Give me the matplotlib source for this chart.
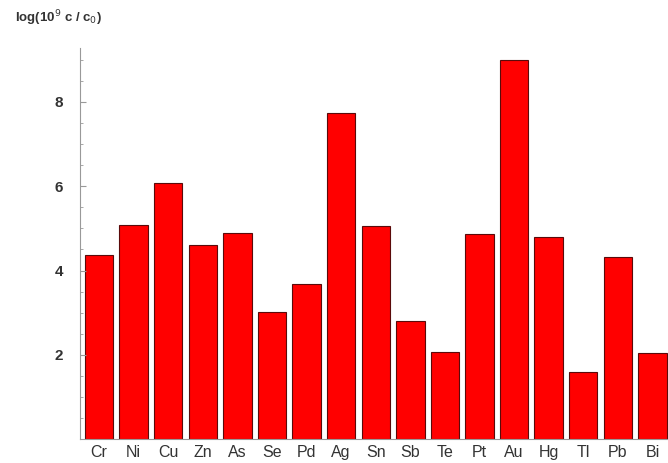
import matplotlib
matplotlib.use("Agg")
import matplotlib.pyplot as plt
from matplotlib.ticker import MultipleLocator

elements = ["Cr", "Ni", "Cu", "Zn", "As", "Se", "Pd", "Ag", "Sn",
            "Sb", "Te", "Pt", "Au", "Hg", "Tl", "Pb", "Bi"]
log_ratio = [4.37, 5.08, 6.08, 4.61, 4.88, 3.01, 3.68, 7.74, 5.06,
             2.81, 2.06, 4.87, 8.99, 4.80, 1.60, 4.33, 2.05]
y_ticks = [2, 4, 6, 8]

plt.rcParams["font.family"] = ["Liberation Sans", "DejaVu Sans"]

fig = plt.figure(figsize=(6.68, 4.63), dpi=100)
ax = fig.add_axes([0.1198, 0.051, 0.8802, 0.845])

positions = range(len(elements))
ax.bar(positions,
       log_ratio,
       width=0.82,
       color="#ff0000",
       edgecolor="#5a0a0a",
       linewidth=0.8)

ax.set_xlim(-0.55, 16.45)
ax.set_ylim(0, 9.27)
ax.set_xticks(list(positions))
ax.set_xticklabels(elements, fontsize=11.5, color="#333333")
ax.set_yticks(y_ticks)
ax.set_yticklabels([str(t) for t in y_ticks], fontsize=11,
                   color="#333333", fontweight="bold")
ax.yaxis.set_minor_locator(MultipleLocator(0.5))
ax.tick_params(axis="x", length=0, pad=4)
ax.tick_params(axis="y", which="major", direction="in", length=4,
               color="#999999", pad=12)
ax.tick_params(axis="y", which="minor", direction="in", length=2,
               color="#999999")

for side in ["top", "right"]:
    ax.spines[side].set_visible(False)
for side in ["left", "bottom"]:
    ax.spines[side].set_color("#999999")
    ax.spines[side].set_linewidth(0.8)

fig.text(15 / 668, 1 - 18 / 463, "log(10$^9$ c / c$_0$)",
         fontsize=9.5, fontweight="bold", color="#333333",
         ha="left", va="center")

fig.savefig("out.png", dpi=100)
